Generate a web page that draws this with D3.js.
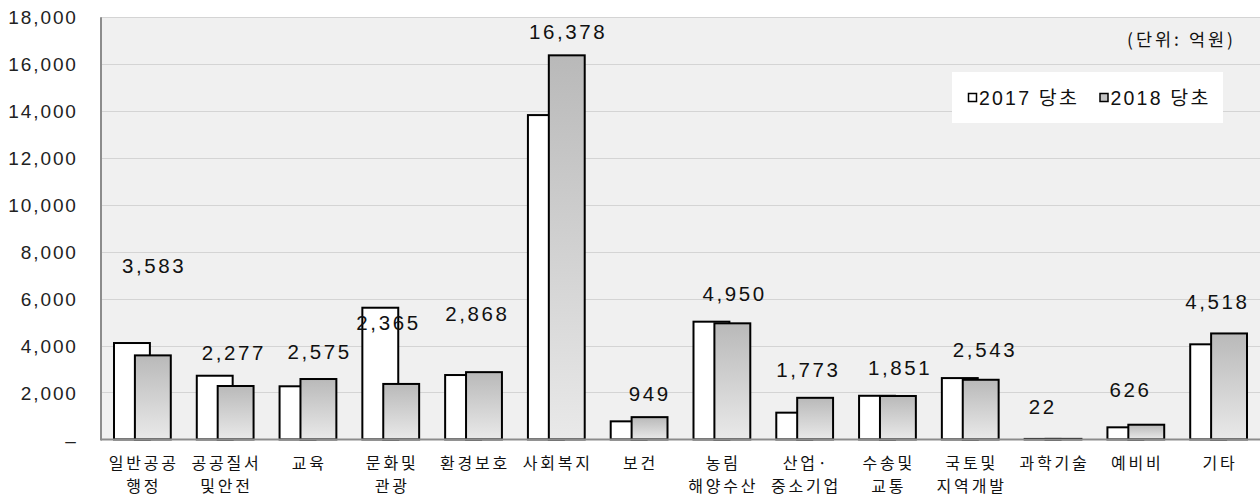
<!DOCTYPE html>
<html><head><meta charset="utf-8">
<script src="https://cdn.jsdelivr.net/npm/d3@7"></script>
<style>
html,body{margin:0;padding:0;background:#fff;}
svg{display:block;}
</style>
</head><body>
<svg id="chart" width="1260" height="497"></svg>
<script>
// ---- data ----
const categories = ["일반공공\n행정","공공질서\n및안전","교육","문화및\n관광","환경보호","사회복지","보건","농림\n해양수산","산업·\n중소기업","수송및\n교통","국토및\n지역개발","과학기술","예비비","기타"];
const series = ["2017 당초","2018 당초"];
const values2017 = [4110, 2715, 2265, 5615, 2745, 13830, 770, 5020, 1140, 1860, 2615, 20, 515, 4055];
const values2018 = [3583, 2277, 2575, 2365, 2868, 16378, 949, 4950, 1773, 1851, 2543, 22, 626, 4518];
const yTicks = [0, 2000, 4000, 6000, 8000, 10000, 12000, 14000, 16000, 18000];
const unitLabel = "(단위: 억원)";
// label placement tweaks (pixels, relative to 2018 bar top/centre)
const labelLift = [90, 33, 27, 61, 59, 24, 24, 30, 28, 28, 30, 32, 35, 32];
const labelShift = [0, -3, 0, -14, -8, 0, -1, 1, -8, 1, 3, -22, -17, -13];

// ---- layout ----
const svg = d3.select("#chart");
const pLeft = 101, pRight = 1260, pTop = 17.3, pBottom = 439.4;
const numFont = "'Liberation Sans', Arial, 'Noto Sans CJK KR', sans-serif";
const korFont = "'Noto Sans CJK KR', sans-serif";

const x = d3.scaleBand().domain(categories).range([pLeft, pRight]).paddingInner(0.314).paddingOuter(0.157);
const y = d3.scaleLinear().domain([0, 18000]).range([pBottom, pTop]);
const bw = x.bandwidth();
const barW = bw * 0.632;
const xSub = d3.scaleLinear().domain([0, 1]).range([0, bw - barW]);

// gradient
const defs = svg.append("defs");
const grad = defs.append("linearGradient").attr("id", "g18").attr("x1", 0).attr("y1", 0).attr("x2", 0).attr("y2", 1);
grad.append("stop").attr("offset", "0%").attr("stop-color", "#b9b9b9");
grad.append("stop").attr("offset", "100%").attr("stop-color", "#e9e9e9");

// plot background
svg.append("rect").attr("x", pLeft).attr("y", pTop).attr("width", pRight - pLeft).attr("height", pBottom - pTop).attr("fill", "#f0f0f0");

// gridlines
svg.append("g").selectAll("line").data(yTicks.filter(d => d > 0)).join("line")
  .attr("x1", pLeft).attr("x2", pRight)
  .attr("y1", d => Math.round(y(d)) + 0.5).attr("y2", d => Math.round(y(d)) + 0.5)
  .attr("stroke", "#d4d4d4").attr("stroke-width", 1);

// y axis
const yAxis = d3.axisLeft(y).tickValues(yTicks).tickSize(0).tickPadding(0)
  .tickFormat(d => d === 0 ? "–" : d3.format(",")(d));
const gy = svg.append("g").attr("transform", `translate(${pLeft},0)`).call(yAxis);
gy.select(".domain").remove();
gy.selectAll("text").attr("x", -23.2).attr("dy", "0.35em")
  .style("font-family", numFont).style("font-size", "19px").style("letter-spacing", "1.9px").attr("fill", "#222");

// bars
const g = svg.append("g");
const groups = g.selectAll("g").data(categories).join("g").attr("transform", d => `translate(${x(d)},0)`);
groups.append("rect")
  .attr("x", 0).attr("width", barW)
  .attr("y", (d, i) => y(values2017[i])).attr("height", (d, i) => pBottom - y(values2017[i]))
  .attr("fill", "#ffffff").attr("stroke", "#000").attr("stroke-width", 2);
groups.append("rect")
  .attr("x", xSub(1)).attr("width", barW)
  .attr("y", (d, i) => y(values2018[i])).attr("height", (d, i) => pBottom - y(values2018[i]))
  .attr("fill", "url(#g18)").attr("stroke", "#000").attr("stroke-width", 2);

// axis lines
svg.append("line").attr("x1", pLeft).attr("x2", pRight).attr("y1", pBottom).attr("y2", pBottom).attr("stroke", "#8c8c8c").attr("stroke-width", 2);
svg.append("line").attr("x1", pLeft).attr("x2", pLeft).attr("y1", pTop).attr("y2", pBottom + 1).attr("stroke", "#8c8c8c").attr("stroke-width", 2);

// value labels (2018)
groups.append("text")
  .attr("x", (d, i) => xSub(1) + barW / 2 + labelShift[i] + 1.3)
  .attr("y", (d, i) => y(values2018[i]) - labelLift[i])
  .attr("dy", "0.36em").attr("text-anchor", "middle")
  .style("font-family", numFont).style("font-size", "20.5px").style("letter-spacing", "2.6px")
  .attr("fill", "#111")
  .text((d, i) => d3.format(",")(values2018[i]));

// x labels
const xl = svg.append("g");
categories.forEach(c => {
  const lines = c.split("\n");
  const t = xl.append("text").attr("text-anchor", "middle")
    .style("font-family", korFont).style("font-size", "16px").style("letter-spacing", "2.8px").attr("fill", "#111");
  lines.forEach((ln, k) => {
    t.append("tspan").attr("x", x(c) + bw / 2 + 1.4).attr("y", 463 + k * 23.5).attr("dy", "0.36em").text(ln);
  });
});

// unit label
svg.append("text").attr("x", 1236).attr("y", 39.5).attr("dy", "0.36em").attr("text-anchor", "end")
  .style("font-family", korFont).style("font-size", "17.5px").style("letter-spacing", "3px").attr("fill", "#111").text(unitLabel);

// legend
const lg = svg.append("g");
lg.append("rect").attr("x", 952).attr("y", 72).attr("width", 271).attr("height", 51).attr("fill", "#fff");
const legendX = [968, 1099.5];
series.forEach((s, i) => {
  lg.append("rect").attr("x", legendX[i] + 0.5).attr("y", 93.5).attr("width", 8).attr("height", 8)
    .attr("fill", i === 0 ? "#fff" : "#c4c4c4").attr("stroke", "#000").attr("stroke-width", 1.5);
  lg.append("text").attr("x", legendX[i] + 11).attr("y", 98).attr("dy", "0.36em")
    .style("font-family", numFont).style("font-size", "19.5px").style("letter-spacing", "2.2px").attr("fill", "#111").text(s);
});
</script>
</body></html>
